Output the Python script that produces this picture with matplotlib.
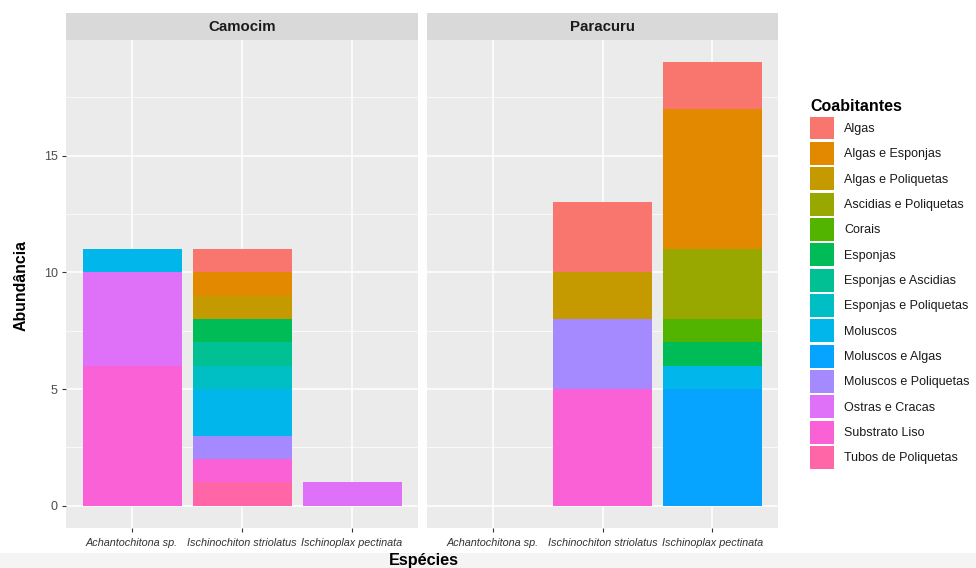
import numpy as np
import matplotlib
matplotlib.use("Agg")
import matplotlib.pyplot as plt
from matplotlib.patches import Patch, Rectangle

plt.rcParams['font.family'] = ['Liberation Sans', 'DejaVu Sans']

sites = ['Camocim', 'Paracuru']
especies = ['Achantochitona sp.', 'Ischinochiton striolatus', 'Ischinoplax pectinata']
coabitantes = ['Algas', 'Algas e Esponjas', 'Algas e Poliquetas', 'Ascidias e Poliquetas',
               'Corais', 'Esponjas', 'Esponjas e Ascidias', 'Esponjas e Poliquetas',
               'Moluscos', 'Moluscos e Algas', 'Moluscos e Poliquetas', 'Ostras e Cracas',
               'Substrato Liso', 'Tubos de Poliquetas']

# contagens por coabitante, uma coluna por especie
camocim = [
    [0, 1, 0],  # Algas
    [0, 1, 0],  # Algas e Esponjas
    [0, 1, 0],  # Algas e Poliquetas
    [0, 0, 0],  # Ascidias e Poliquetas
    [0, 0, 0],  # Corais
    [0, 1, 0],  # Esponjas
    [0, 1, 0],  # Esponjas e Ascidias
    [0, 1, 0],  # Esponjas e Poliquetas
    [1, 2, 0],  # Moluscos
    [0, 0, 0],  # Moluscos e Algas
    [0, 1, 0],  # Moluscos e Poliquetas
    [4, 0, 1],  # Ostras e Cracas
    [6, 1, 0],  # Substrato Liso
    [0, 1, 0],  # Tubos de Poliquetas
]
paracuru = [
    [0, 3, 2],
    [0, 0, 6],
    [0, 2, 0],
    [0, 0, 3],
    [0, 0, 1],
    [0, 0, 1],
    [0, 0, 0],
    [0, 0, 0],
    [0, 0, 1],
    [0, 0, 5],
    [0, 3, 0],
    [0, 0, 0],
    [0, 5, 0],
    [0, 0, 0],
]
y_ticks = [0, 5, 10, 15]


def hcl_hex(h, c=100, l=65):
    # paleta de matiz do ggplot2 (polar LUV -> sRGB)
    hr = np.deg2rad(h)
    u, v = c * np.cos(hr), c * np.sin(hr)
    Xn, Yn, Zn = 95.047, 100.0, 108.883
    den = Xn + 15 * Yn + 3 * Zn
    un, vn = 4 * Xn / den, 9 * Yn / den
    Y = Yn * ((l + 16) / 116) ** 3
    up, vp = u / (13 * l) + un, v / (13 * l) + vn
    X = 9 * Y * up / (4 * vp)
    Z = -X / 3 - 5 * Y + 3 * Y / vp
    M = np.array([[3.240479, -1.537150, -0.498535],
                  [-0.969256, 1.875992, 0.041556],
                  [0.055648, -0.204043, 1.057311]])
    rgb = M @ np.array([X, Y, Z]) / 100
    rgb = np.where(rgb > 0.0031308, 1.055 * np.abs(rgb) ** (1 / 2.4) - 0.055, 12.92 * rgb)
    return tuple(np.clip(rgb, 0, 1))


n = len(coabitantes)
colors = [hcl_hex(h) for h in np.linspace(15, 375, n + 1)[:n]]

fig = plt.figure(figsize=(9.76, 5.68), dpi=100)
W, H = 976, 568


def px_axes(x0, y0, x1, y1):
    return fig.add_axes([x0 / W, 1 - y1 / H, (x1 - x0) / W, (y1 - y0) / H])


# faixa cinza clara no rodape da captura
fig.patches.append(Rectangle((0, 0), 1, 15 / H, transform=fig.transFigure,
                             facecolor='#f4f4f4', edgecolor='none', zorder=-1))

panels = [(66, 418), (427, 778)]
top, bottom = 40, 528
x = np.arange(1, len(especies) + 1)

for site, data, (x0, x1) in zip(sites, [camocim, paracuru], panels):
    ax = px_axes(x0, top, x1, bottom)
    ax.set_facecolor('#ebebeb')
    data = np.array(data, dtype=float)
    base = np.zeros(len(especies))
    for i in reversed(range(n)):
        vals = data[i]
        ax.bar(x, vals, bottom=base, width=0.9, color=colors[i], linewidth=0, zorder=3)
        base += vals
    ax.set_xlim(0.4, 3.6)
    ax.set_ylim(-0.95, 19.95)
    ax.set_yticks(y_ticks)
    ax.set_yticks([2.5, 7.5, 12.5, 17.5], minor=True)
    ax.set_xticks(x)
    ax.set_xticklabels(especies, style='italic')
    ax.grid(which='major', color='white', linewidth=1.1, zorder=0)
    ax.grid(which='minor', axis='y', color='white', linewidth=0.5, zorder=0)
    ax.set_axisbelow(True)
    for s in ax.spines.values():
        s.set_visible(False)
    ax.tick_params(axis='both', which='major', color='#333333', length=3, width=0.8,
                   labelsize=9, labelcolor='#4d4d4d', pad=3)
    ax.tick_params(axis='x', labelsize=7.8, labelcolor='#333333', pad=4)
    ax.tick_params(which='minor', length=0)
    if x0 > 100:
        ax.tick_params(axis='y', length=0, labelleft=False)
    # faixa do facet
    sax = px_axes(x0, 13, x1, top)
    sax.set_facecolor('#d9d9d9')
    sax.set_xticks([])
    sax.set_yticks([])
    for s in sax.spines.values():
        s.set_visible(False)
    sax.text(0.5, 0.48, site, ha='center', va='center', fontsize=10.8, fontweight='bold',
             color='#1a1a1a', transform=sax.transAxes)

fig.text(21 / W, 1 - 285 / H, 'Abundância', rotation=90, ha='center', va='center',
         fontsize=11.4, fontweight='bold')
fig.text(424 / W, 1 - 561 / H, 'Espécies', ha='center', va='center',
         fontsize=11.7, fontweight='bold')

handles = [Patch(facecolor=c, edgecolor='none') for c in colors]
leg = fig.legend(handles, coabitantes, loc='upper left',
                 bbox_to_anchor=(807 / W, 1 - 96 / H), frameon=False,
                 fontsize=9, title='Coabitantes',
                 title_fontproperties={'weight': 'bold', 'size': 11.5},
                 handlelength=1.92, handleheight=2.45, labelspacing=0.19,
                 handletextpad=0.8, borderaxespad=0, borderpad=0.25)
leg._legend_box.align = 'left'
for t in leg.get_texts():
    t.set_color('#1a1a1a')

fig.savefig('out.png', dpi=100)
